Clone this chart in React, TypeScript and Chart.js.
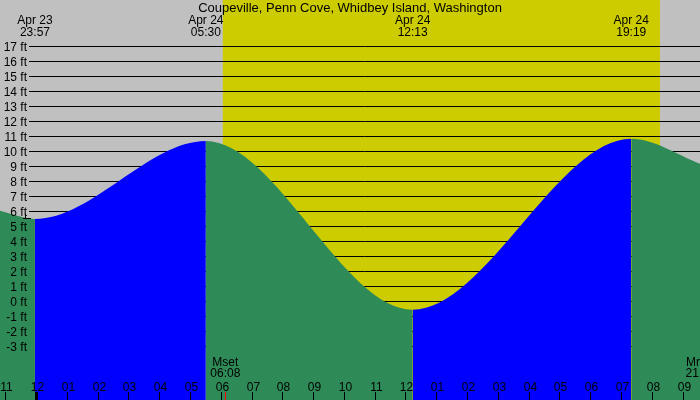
import React, { useEffect, useRef } from "react";
import { Chart, registerables } from "chart.js";

Chart.register(...registerables);

const TITLE = "Coupeville, Penn Cove, Whidbey Island, Washington";

// tide curve readings (hours from Apr 24 00:00, feet)
const tideHours = [-1.2, -0.05, 5.5, 12.2167, 19.3167, 21.6];
const tideFeet = [6.05, 5.5, 10.7, -0.55, 10.85, 9.15];

// high / low labels
const extremeHours = [-0.05, 5.5, 12.2167, 19.3167];
const extremeDates = ["Apr 23", "Apr 24", "Apr 24", "Apr 24"];
const extremeTimes = ["23:57", "05:30", "12:13", "19:19"];

// axis ticks
const footTicks = [17, 16, 15, 14, 13, 12, 11, 10, 9, 8, 7, 6, 5, 4, 3, 2, 1, 0, -1, -2, -3];
const hourTicks = [-1, 0, 1, 2, 3, 4, 5, 6, 7, 8, 9, 10, 11, 12, 13, 14, 15, 16, 17, 18, 19, 20, 21];
const hourLabels = ["11", "12", "01", "02", "03", "04", "05", "06", "07", "08", "09", "10", "11", "12", "01", "02", "03", "04", "05", "06", "07", "08", "09"];

// daylight
const sunHours = [6.05, 20.25];

// moon events
const moonHours = [6.1333, 21.567];
const moonNames = ["Mset", "Mrise"];
const moonTimes = ["06:08", "21:34"];

// current level marker (first low)
const markerFeet = 5.5;

const X_MIN = -1.1854;
const X_MAX = 21.549;
const Y_MIN = -6.5667;
const Y_MAX = 20.1;

const FONT = '12px "Liberation Sans", Arial, sans-serif';
const TITLE_FONT = '13px "Liberation Sans", Arial, sans-serif';
const GRAY = "#c0c0c0";
const YELLOW = "#cccc00";
const GREEN = "#2e8b57";
const BLUE = "#0000ff";

const decorPlugin = {
  id: "decor",
  beforeDatasetsDraw(chart: any) {
    const { ctx } = chart;
    const xs = chart.scales.x;
    const ys = chart.scales.y;
    const W = chart.width;
    const H = chart.height;
    ctx.save();
    ctx.fillStyle = GRAY;
    ctx.fillRect(0, 0, W, H);
    const s0 = xs.getPixelForValue(sunHours[0]);
    const s1 = xs.getPixelForValue(sunHours[1]);
    ctx.fillStyle = YELLOW;
    ctx.fillRect(s0, 0, s1 - s0, H);
    ctx.strokeStyle = "#000";
    ctx.lineWidth = 1;
    for (const v of footTicks) {
      const y = Math.round(ys.getPixelForValue(v) - 0.5) + 0.5;
      ctx.beginPath();
      ctx.moveTo(29, y);
      ctx.lineTo(W, y);
      ctx.stroke();
    }
    ctx.restore();
  },
  afterDatasetsDraw(chart: any) {
    const { ctx } = chart;
    const xs = chart.scales.x;
    const ys = chart.scales.y;
    const W = chart.width;
    ctx.save();
    ctx.fillStyle = "#000";
    ctx.textBaseline = "alphabetic";

    // title
    ctx.textAlign = "center";
    ctx.font = TITLE_FONT;
    ctx.fillText(TITLE, W / 2, 12);
    ctx.font = FONT;

    // extremes
    extremeHours.forEach((h, i) => {
      const x = xs.getPixelForValue(h);
      ctx.fillText(extremeDates[i], x, 24);
      ctx.fillText(extremeTimes[i], x, 36);
    });

    // y labels
    ctx.textAlign = "right";
    for (const v of footTicks) {
      const y = Math.round(ys.getPixelForValue(v) - 0.5);
      ctx.fillText(v + " ft", 27, y + 5);
    }

    // level marker
    const my = Math.round(ys.getPixelForValue(markerFeet) - 0.5) + 0.5;
    ctx.strokeStyle = "#000";
    ctx.lineWidth = 1;
    ctx.beginPath();
    ctx.moveTo(25.5, my - 5);
    ctx.lineTo(25.5, my);
    ctx.moveTo(23, my);
    ctx.lineTo(31, my);
    ctx.stroke();

    // moon events
    ctx.textAlign = "center";
    moonHours.forEach((h, i) => {
      const x = xs.getPixelForValue(h);
      ctx.fillStyle = "#000";
      ctx.fillText(moonNames[i], x, 366);
      ctx.fillText(moonTimes[i], x, 377);
    });

    // hour labels and ticks
    hourTicks.forEach((h, i) => {
      const px = xs.getPixelForValue(h);
      const x = Math.round(px - 0.5) + 0.5;
      ctx.fillStyle = "#000";
      ctx.fillText(hourLabels[i], x + 1, 391);
      ctx.strokeStyle = "#000";
      ctx.lineWidth = h === 0 ? 3 : 1;
      ctx.beginPath();
      ctx.moveTo(x, 392);
      ctx.lineTo(x, 400);
      ctx.stroke();
    });

    // moon ticks (red)
    moonHours.forEach((h) => {
      const x = Math.round(xs.getPixelForValue(h) - 0.5) + 0.5;
      ctx.strokeStyle = "#ff0000";
      ctx.lineWidth = 1;
      ctx.beginPath();
      ctx.moveTo(x, 392);
      ctx.lineTo(x, 400);
      ctx.stroke();
    });
    ctx.restore();
  },
};

export default function App() {
  const ref = useRef<HTMLCanvasElement>(null);
  useEffect(() => {
    const canvas = ref.current;
    if (!canvas) return;
    const chart = new Chart(canvas, {
      type: "line",
      data: {
        datasets: [
          {
            data: tideHours.map((h, i) => ({ x: h, y: tideFeet[i] })),
            borderWidth: 0,
            borderColor: "rgba(0,0,0,0)",
            backgroundColor: GREEN,
            fill: "start",
            pointRadius: 0,
            cubicInterpolationMode: "monotone",
            segment: {
              backgroundColor: (c: any) => (c.p1.parsed.y > c.p0.parsed.y ? BLUE : GREEN),
            },
          } as any,
        ],
      },
      options: {
        animation: false,
        responsive: false,
        devicePixelRatio: 1,
        layout: { padding: 0 },
        events: [],
        plugins: {
          legend: { display: false },
          title: { display: false },
          tooltip: { enabled: false },
        },
        scales: {
          x: { type: "linear", min: X_MIN, max: X_MAX, display: false },
          y: { type: "linear", min: Y_MIN, max: Y_MAX, display: false },
        },
      },
      plugins: [decorPlugin],
    });
    return () => chart.destroy();
  }, []);
  return (
    <div style={{ position: "fixed", left: 0, top: 0, width: 700, height: 400 }}>
      <canvas ref={ref} width={700} height={400} style={{ display: "block" }} />
    </div>
  );
}
